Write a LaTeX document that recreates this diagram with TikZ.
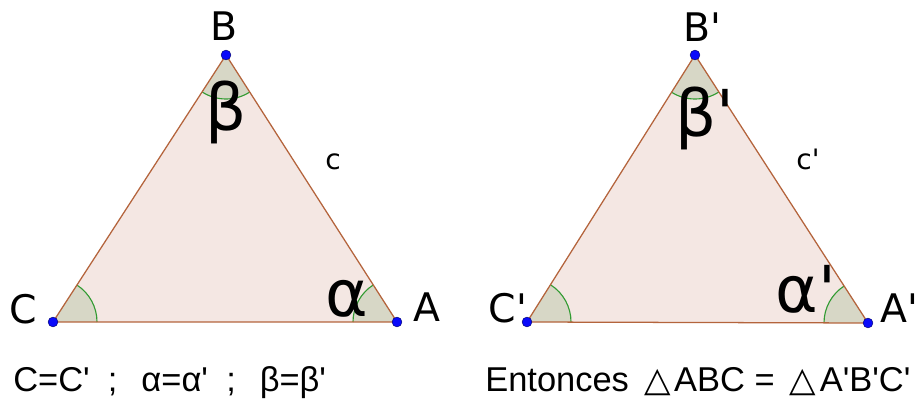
\documentclass[tikz,border=0pt]{standalone}
\usepackage{fontspec}
\setmainfont{DejaVu Sans}[Ligatures=TeXOff]
\newfontfamily\notefont{Liberation Sans}[Ligatures=TeXOff]
\newfontfamily\symfont{DejaVu Sans}
\usetikzlibrary{angles}

\definecolor{trifill}{RGB}{244,231,227}
\definecolor{triedge}{RGB}{180,100,60}
\definecolor{angfill}{RGB}{215,215,198}
\definecolor{angarc}{RGB}{50,155,50}
\definecolor{ptblue}{RGB}{10,10,250}

\newcommand{\tri}{{\symfont\hspace{4pt}△\hspace{2.5pt}}}

\begin{document}
\begin{tikzpicture}[x=0.025cm, y=0.025cm,
  trifill/.style={fill=trifill},
  triline/.style={draw=triedge, line width=0.9pt, line join=round},
  ang/.style={draw=angarc, fill=angfill, angle radius=1.1cm, line width=0.8pt},
  pt/.style={circle, fill=ptblue, draw=blue!40!black, line width=0.3pt,
             inner sep=0pt, minimum size=7pt},
  lbl/.style={font=\fontsize{28}{30}\selectfont, inner sep=0pt, anchor=base},
  side/.style={font=\fontsize{20}{22}\selectfont, inner sep=0pt, anchor=base},
  greek/.style={font=\fontsize{46}{48}\selectfont, inner sep=0pt},
  note/.style={font=\notefont\fontsize{24.5}{26}\selectfont, inner sep=0pt, anchor=base west}
]
  \useasboundingbox (0,0) rectangle (919,400);

  % first triangle
  \coordinate (B) at (226,345);
  \coordinate (C) at (53,78);
  \coordinate (A) at (397,78);
  % second triangle
  \coordinate (B2) at (695,345);
  \coordinate (C2) at (527,78);
  \coordinate (A2) at (868,77);

  \path[trifill] (B) -- (C) -- (A) -- cycle;
  \path[trifill] (B2) -- (C2) -- (A2) -- cycle;

  \pic[ang] {angle=A--C--B};
  \pic[ang] {angle=B--A--C};
  \pic[ang] {angle=C--B--A};
  \pic[ang] {angle=A2--C2--B2};
  \pic[ang] {angle=B2--A2--C2};
  \pic[ang] {angle=C2--B2--A2};

  \draw[triline] (B) -- (C) -- (A) -- cycle;
  \draw[triline] (B2) -- (C2) -- (A2) -- cycle;

  \node[pt] (ptB)  at (B)  {};
  \node[pt] (ptC)  at (C)  {};
  \node[pt] (ptA)  at (A)  {};
  \node[pt] (ptB2) at (B2) {};
  \node[pt] (ptC2) at (C2) {};
  \node[pt] (ptA2) at (A2) {};

  % labels
  \node[lbl] (labB)  at (224,359) {B};
  \node[lbl] (labC)  at (23,76)   {C};
  \node[lbl] (labA)  at (427,78)  {A};
  \node[side] (labc) at (333,230) {c};
  \node[greek] (beta)  at (226,288) {β};
  \node[greek, anchor=base] (alpha) at (347,83) {α};

  \node[lbl] (labB2) at (702,358) {B'};
  \node[lbl] (labC2) at (508,77)  {C'};
  \node[lbl] (labA2) at (899,77)  {A'};
  \node[side] (labc2) at (808,230) {c'};
  \node[greek] (beta2)  at (705,282) {β'};
  \node[greek, anchor=base] (alpha2) at (806,87) {α'};

  % conclusion
  \node[note] (given) at (13,8)
    {C=C'\hspace{13pt};\hspace{17pt}α=α'\hspace{13pt};\hspace{17pt}β=β'};
  \node[note] (thus) at (485,8)
    {Entonces \tri ABC = \tri A'B'C'};
\end{tikzpicture}
\end{document}
